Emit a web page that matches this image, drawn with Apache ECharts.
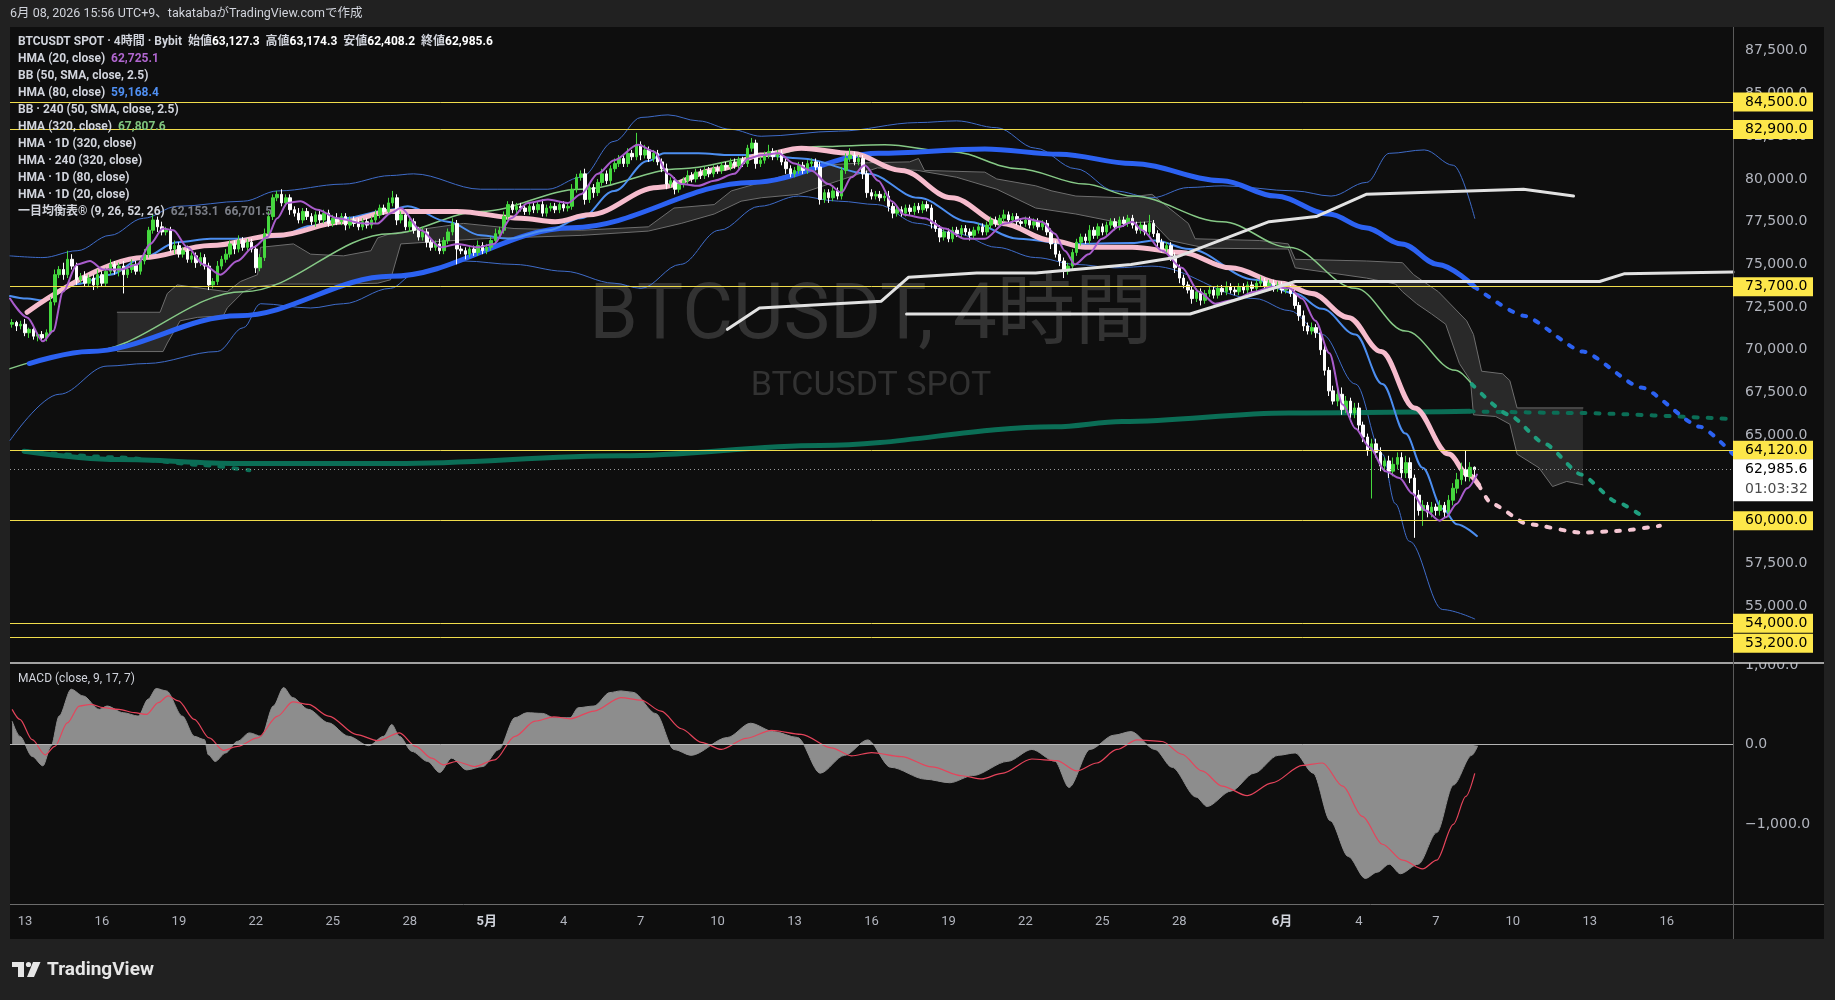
<!DOCTYPE html>
<html>
<head>
<meta charset="utf-8">
<title>BTCUSDT SPOT 4時間</title>
<script src="https://cdn.jsdelivr.net/npm/echarts@6/dist/echarts.min.js"></script>
<style>
  html, body { margin: 0; padding: 0; background: #212121; }
  #panel { position: absolute; left: 10px; top: 27px; width: 1814px; height: 912px; background: #0e0e0e; }
  #chart { position: absolute; left: 0; top: 0; width: 1835px; height: 1000px; }
</style>
</head>
<body>
<div id="panel"></div>
<div id="chart"></div>
<script>
// 4時間足の枠: 4/12 13:00 JST から 403 本 (右側は先の空き)
const START = Date.UTC(2026, 3, 12, 4)
const SLOTS = 403
const FONT = "Roboto, 'Noto Sans CJK JP', sans-serif"
const AXFONT = "'DejaVu Sans', sans-serif"

// 日付ラベル
const TICK_DAYS = ['4/13','4/16','4/19','4/22','4/25','4/28','5/1','5/4','5/7','5/10','5/13','5/16','5/19','5/22','5/25','5/28','6/1','6/4','6/7','6/10','6/13','6/16']
const TICK_LABELS = ['13','16','19','22','25','28','5月','4','7','10','13','16','19','22','25','28','6月','4','7','10','13','16']

// ローソク足 (千ドル単位) 始値は前の終値
const FIRST_OPEN = 71.5
const closes = [
  71.6, 71.4, 71.5, 71.0, 71.2, 70.8, 70.9, 70.7, 71.0, 72.8,
  74.4, 74.7, 74.4, 75.3, 74.9, 74.1, 74.3, 73.9, 74.2, 73.8,
  74.4, 73.9, 74.6, 75.0, 74.6, 74.9, 74.4, 74.7, 75.0, 74.6,
  75.2, 75.6, 77.0, 77.6, 77.2, 76.9, 77.0, 75.9, 76.1, 75.6,
  75.8, 75.3, 75.5, 75.1, 75.4, 74.9, 73.8, 74.0, 74.9, 75.3,
  75.6, 76.2, 75.9, 76.4, 76.0, 76.3, 75.9, 74.8, 75.4, 76.8,
  77.8, 78.9, 79.1, 78.6, 78.9, 78.2, 78.0, 77.6, 78.1, 77.8,
  77.5, 77.9, 77.6, 78.0, 77.4, 77.7, 77.5, 77.8, 77.3, 77.6,
  77.4, 77.2, 77.5, 77.3, 77.6, 77.9, 78.3, 78.1, 78.6, 78.9,
  77.6, 77.9, 77.2, 77.5, 77.0, 76.6, 76.9, 76.3, 76.0, 76.2,
  75.8, 76.4, 76.9, 77.4, 75.9, 75.8, 75.6, 75.9, 75.7, 76.1,
  75.8, 76.0, 76.4, 76.8, 77.0, 77.8, 78.5, 78.2, 78.4, 78.3,
  78.1, 78.4, 78.2, 78.5, 78.0, 78.3, 78.4, 78.2, 78.5, 78.3,
  78.4, 79.4, 80.1, 80.3, 78.8, 79.5, 79.2, 79.8, 80.3, 79.9,
  80.6, 80.9, 81.2, 80.9, 81.5, 81.3, 82.0, 81.4, 81.7, 81.2,
  81.5, 81.0, 80.6, 79.7, 79.9, 79.4, 79.7, 79.9, 80.2, 80.0,
  80.4, 80.2, 80.5, 80.3, 80.6, 80.5, 80.8, 80.7, 81.0, 80.8,
  81.1, 80.9, 81.8, 82.1, 80.9, 81.1, 81.4, 81.6, 81.3, 81.5,
  81.0, 80.6, 80.3, 80.5, 80.8, 80.5, 80.9, 81.0, 80.7, 78.8,
  79.2, 78.9, 79.3, 79.0, 80.5, 81.2, 81.4, 81.0, 81.2, 80.3,
  79.2, 79.0, 79.1, 78.9, 79.0, 78.4, 78.0, 78.2, 78.0, 78.3,
  78.1, 78.4, 78.2, 78.5, 78.3, 77.4, 77.1, 76.6, 76.9, 76.5,
  77.0, 76.8, 77.1, 76.9, 76.7, 77.0, 77.2, 76.9, 77.3, 77.6,
  77.4, 77.7, 77.9, 77.6, 77.8, 77.5, 77.4, 77.6, 77.3, 77.5,
  77.2, 77.4, 76.9, 76.2, 75.6, 75.2, 74.6, 74.9, 75.7, 76.3,
  76.6, 76.4, 77.0, 76.7, 77.2, 76.9, 77.3, 77.5, 77.2, 77.6,
  77.4, 77.7, 77.3, 77.0, 77.3, 76.9, 77.4, 76.8, 76.3, 75.9,
  76.1, 75.5, 74.8, 74.2, 73.8, 73.5, 73.0, 73.4, 72.9, 73.3,
  73.5, 73.2, 73.6, 73.4, 73.7, 73.5, 73.4, 73.7, 73.5, 73.8,
  73.6, 73.9, 74.0, 73.7, 73.9, 73.6, 73.8, 73.5, 73.6, 73.3,
  72.6, 72.0, 71.4, 71.1, 71.3, 71.0, 70.0, 68.8, 67.6, 67.0,
  67.4, 66.5, 67.0, 66.3, 66.6, 65.6, 64.9, 64.1, 64.5, 64.0,
  63.2, 63.5, 62.9, 63.3, 63.7, 62.8, 63.4, 62.5, 61.5, 60.6,
  60.9, 60.5, 60.8, 60.6, 60.9, 60.5, 61.2, 61.9, 62.4, 63.0,
  62.6, 63.127, 62.986
]
// ヒゲの長さ (100ドル単位)
const wickUp = [
  2,1,2,3,1,2,1,2,2,3, 3,2,4,5,3,2,2,3,2,2, 3,2,2,3,2,2,3,2,3,2, 2,3,2,3,2,3,2,2,3,2,
  2,3,2,2,3,2,2,2,3,2, 3,2,2,3,2,2,2,2,2,3, 3,2,2,3,2,2,2,3,2,2, 2,2,3,2,2,2,3,2,2,2,
  2,3,2,2,2,3,2,2,3,4, 2,2,3,2,2,2,3,2,2,2, 3,2,2,3,2,2,2,2,2,3, 2,2,2,3,2,3,2,2,2,2,
  2,2,2,2,3,2,2,2,2,2, 2,3,2,2,3,2,2,2,3,2, 2,3,2,2,3,2,7,2,3,2, 2,2,2,3,2,2,2,2,3,2,
  2,2,2,2,2,2,2,2,2,2, 2,2,2,3,2,2,2,4,2,2, 2,2,2,2,2,2,2,2,2,3, 2,2,3,2,2,3,4,2,2,2,
  2,2,2,2,2,3,2,2,2,2, 2,2,2,2,2,2,2,2,2,2, 2,2,2,2,2,2,2,2,2,2, 2,2,3,2,2,2,2,2,2,2,
  2,2,2,2,2,2,2,2,2,2, 2,2,3,2,2,2,2,2,2,2, 2,2,2,2,2,2,5,2,2,2, 2,2,2,2,2,2,2,2,2,2,
  2,2,2,2,3,2,2,2,2,2, 2,2,3,2,2,2,2,2,2,2, 2,2,3,2,3,2,2,3,2,3, 3,4,3,2,3,3,2,2,3,3,
  3,2,3,4,3,3,4,3,2,3, 3,2,3,2,3,2,3,3,4,4, 11,3,0.5
]
const wickDn = [
  2,3,2,2,3,2,3,2,2,1, 2,2,3,2,2,3,2,2,2,3, 2,2,2,2,2,3,11,2,2,2, 2,2,2,2,3,2,2,2,3,2,
  2,2,2,3,2,2,3,2,2,2, 2,2,3,2,2,2,2,3,2,2, 2,2,2,2,2,3,2,2,2,2, 2,3,2,2,2,2,2,2,3,2,
  2,2,2,2,2,2,2,2,2,2, 3,2,2,3,2,2,2,3,2,2, 2,2,2,2,9,2,3,2,2,2, 2,2,2,2,2,2,2,2,2,2,
  2,2,2,2,2,2,2,2,2,2, 2,2,2,2,3,2,3,2,2,2, 2,2,2,2,2,2,2,3,2,2, 2,2,2,3,2,3,2,2,2,2,
  2,2,2,2,2,2,2,2,2,2, 2,2,2,2,3,2,2,2,2,2, 2,3,2,2,2,2,2,2,2,3, 2,3,2,2,2,2,2,2,2,3,
  3,2,2,2,2,3,3,2,2,2, 2,2,2,2,2,3,2,3,2,2, 2,2,2,2,3,2,2,2,2,2, 2,2,2,2,2,2,2,2,2,2,
  2,2,2,3,2,3,4,2,2,2, 2,2,2,2,2,2,2,2,2,2, 2,2,2,2,2,2,2,2,3,2, 2,3,3,3,2,2,3,2,3,2,
  2,2,2,2,2,2,2,2,2,2, 2,2,2,2,2,2,2,2,2,2, 2,3,3,2,2,3,3,3,3,2, 3,3,2,3,3,3,3,3,28,3,
  3,3,4,3,3,3,3,3,25,3, 9,3,3,3,3,3,3,3,3,3, 3,3,5.8
]

// 水平線と現在値
const LEVELS = [84500, 82900, 73700, 64120, 60000, 54000, 53200]
const LAST_PRICE = 62985.6
const LAST_TIMER = '01:03:32'

// インジケーター [足の位置, 千ドル]
const hma20 = [[-0.5,73.0],[3.5,71.9],[7.2,70.5],[9.6,71.1],[11.9,73.4],[15.2,75.0],[18.2,75.2],[21.3,74.7],[25.3,74.7],[29.3,75.0],[32.3,76.2],[35.3,77.1],[37.7,77.0],[41,76.0],[44.7,75.0],[48.7,74.4],[52.7,75.2],[56.4,76.0],[59.7,76.6],[62,77.7],[64.4,78.6],[67.4,78.7],[71.4,78.2],[76.1,77.7],[82.2,77.4],[85.5,77.4],[88.5,78.0],[90.9,78.3],[95.6,77.0],[100.3,76.0],[104.2,76.2],[108.9,76.0],[112.7,76.2],[116.7,77.7],[120.6,78.6],[125.3,78.8],[130,78.6],[133,79.1],[137,80.3],[140.8,81.1],[146.4,82.0],[150.2,81.6],[153.4,80.3],[156.5,79.7],[160.5,79.6],[164.2,79.9],[168.9,80.3],[172.2,81.2],[175.2,81.4],[179.2,81.5],[183,80.9],[186.9,80.5],[190.9,79.7],[194,79.2],[196.3,80.1],[199.4,80.8],[202.6,79.9],[205.7,78.7],[208.7,77.9],[213.4,77.7],[218.1,77.1],[222.8,76.5],[227.5,76.5],[232.2,77.4],[236.8,77.7],[240.8,77.5],[243.9,76.8],[246.2,75.8],[248.6,75.0],[251.8,75.6],[254.9,76.5],[258.9,77.2],[262,77.5],[264.3,77.0],[269,75.8],[273.6,74.8],[277.6,73.4],[281.4,72.7],[285.3,72.9],[290.7,73.4],[294.7,73.7],[298.7,73.6],[301.7,73.0],[304.8,71.7],[308.1,69.8],[311.2,66.8],[314.2,65.4],[317.5,64.3],[321.2,62.9],[324.5,62.5],[327.5,61.6],[330.6,60.6],[333.9,60.0],[335.3,60.2],[337.9,61.0],[340.3,61.9],[342.6,62.7]]
const hma80 = [[-0.5,73.15],[3.5,73.0],[7.2,72.9],[15.2,73.85],[22.9,74.4],[30.7,75.4],[38.6,76.3],[46.4,76.5],[54.1,76.5],[62,76.6],[69.8,77.25],[77.5,77.7],[88.5,78.2],[92.5,78.4],[101.9,77.5],[109.6,76.7],[116,76.5],[125.3,77.0],[133,77.7],[140.8,79.3],[148.7,81.05],[152.5,81.5],[160.5,81.5],[168.2,81.4],[175.2,81.4],[184.6,81.2],[200.3,80.3],[212,78.9],[223.7,77.5],[235.4,76.5],[247.2,76.2],[262,76.25],[267.3,76.4],[275.3,75.9],[290.7,74.1],[300.1,73.3],[306.4,72.4],[314.2,70.9],[320.5,68.0],[325.9,65.1],[329.9,63.1],[334.6,60.7],[337.9,59.8],[342.6,59.1]]
const hma320 = [[-0.5,68.9],[17.5,69.9],[54.1,73.4],[88.5,76.8],[109.6,78.1],[133,79.4],[156.5,80.6],[175.2,81.3],[188.6,81.9],[204.1,82.0],[219.7,81.6],[235.4,80.6],[250.9,79.7],[262,79.0],[283,77.5],[298.7,76.0],[314.2,73.6],[325.9,71.1],[337.6,68.8],[341.4,68.0]]
const hma320Proj = [[341.4,68.0],[350.1,66.2],[358.5,64.5],[367,62.7],[375.3,61.1],[380.5,60.4]]
const bbUpper = [[-0.5,75.5],[7.2,75.4],[15.2,75.8],[22.9,76.7],[30.7,77.7],[38.6,78.4],[54.1,78.7],[62.1,79.3],[77.5,79.7],[88.5,80.2],[93.9,80.3],[109.6,79.4],[125.3,79.4],[133.1,80.1],[140.8,82.2],[147.1,83.6],[153.4,83.75],[160.5,83.4],[168.2,82.9],[175.2,82.5],[193.3,82.8],[211.8,83.3],[220.9,83.4],[230.3,83.0],[239.4,81.8],[248.8,80.6],[257.9,79.3],[266.6,78.9],[275.1,79.5],[283.2,79.6],[300.1,79.3],[308.5,79.0],[316.8,79.8],[322.1,81.5],[330.3,81.7],[337.1,80.8],[342.1,77.7]]
const bbLower = [[-0.5,64.7],[11,67.4],[22.2,69.05],[31.4,69.2],[48,69.9],[54.1,71.3],[58.1,72.7],[69.8,72.45],[77.5,72.7],[88.5,73.6],[93.9,74.4],[105.6,75.2],[117.4,75.0],[129.1,74.6],[140.8,73.9],[147.1,73.6],[156.3,75.0],[165.4,77.0],[174.8,78.4],[183.9,79.0],[193.3,78.7],[202.4,78.5],[211.8,77.4],[220.9,76.8],[230.3,76.0],[239.4,75.4],[248.8,75.0],[257.9,74.8],[266.6,74.9],[290.7,73.0],[298.7,72.3],[306.4,70.9],[314.2,68.0],[320.5,63.9],[323.5,61.0],[326.8,58.8],[334.6,54.8],[342.1,54.25]]
const hma1d320 = [[4,69.2],[18,69.9],[53,72.0],[88.5,74.3],[131,77.15],[173,79.8],[202.6,81.5],[227.5,81.75],[245,81.45],[262,80.9],[283,79.9],[295.5,79.0],[308,77.95],[316.5,77.15],[325,76.2],[333.5,75.0],[342,73.7]]
const hma1d320Proj = [[342,73.7],[353.5,72.0],[367.4,69.9],[381,67.8],[394.8,65.5],[402.5,63.9]]
const hma240x320 = [[2.8,64.07],[25,63.58],[52.7,63.35],[89.7,63.35],[142.4,63.8],[189,64.4],[243.9,65.5],[259.6,65.8],[298.7,66.3],[340.9,66.4]]
const hma240x320Proj = [[340.9,66.4],[367,66.3],[402.5,65.95]]
const hma240x320Early = [[2.8,64.07],[25,63.7],[45,63.25],[55.5,62.95]]
const hma1d80 = [[167.3,71.2],[174.8,72.45],[203.3,72.85],[209.7,74.25],[225.6,74.5],[239.4,74.5],[261.7,75.0],[272,75.4],[294,77.5],[305,77.8],[316.7,79.1],[353.5,79.4],[365.2,79.0]]
const hma1d80Low = [[209.2,72.1],[275.5,72.1],[300.1,74.0],[371.3,74.0],[377,74.45],[402.5,74.55]]
const hma1d20 = [[3.5,72.2],[30.7,75.4],[46.4,76.1],[62,76.7],[77.5,77.5],[88.5,78.1],[104,78.1],[119,77.7],[127,77.5],[135,77.9],[151,79.5],[166,80.6],[175,81.4],[184.6,81.8],[196.3,81.5],[208,80.5],[219.7,78.9],[231.5,77.4],[243.2,76.4],[251,76.0],[262,76.0],[273.5,75.7],[285,74.8],[296.9,73.9],[304,73.3],[312.5,71.9],[320.2,69.9],[328,66.6],[336,63.9],[340.5,62.7],[343,62.1]]
const hma1d20Proj = [[343,62.1],[346,61.0],[354.5,59.8],[367,59.3],[375.3,59.4],[385.4,59.7]]
const spanA = [[24.6,72.2],[34.6,72.2],[36.3,73.3],[38.6,73.8],[50.3,73.4],[53.4,74.0],[57.4,74.4],[58.1,76.0],[65.8,76.2],[69.8,75.6],[77.5,75.5],[83.9,75.8],[85.5,76.55],[88.5,76.8],[105.6,77.4],[117.4,77.1],[133.1,77.0],[148.8,77.2],[154.8,78.3],[164.2,78.5],[168.2,79.3],[175.2,79.8],[188.6,80.8],[200.3,80.95],[209.9,81.0],[212,81.2],[213.4,80.5],[227.5,80.4],[230.3,80.0],[239.4,79.6],[243.2,79.3],[248.8,79.0],[259.8,78.9],[266.6,79.1],[275.1,77.4],[276.7,76.5],[291.7,76.4],[298.5,76.2],[300.1,75.3],[316.8,75.2],[325.2,75.1],[327.8,74.4],[330.1,74.0],[333.6,73.4],[340.2,71.7],[341.8,70.9],[343.7,68.75],[348.6,68.6],[350.3,68.2],[352,66.6],[367.4,66.6]]
const spanB = [[24.6,69.9],[35.3,69.9],[36.3,70.4],[39.3,71.7],[43.3,71.9],[49.4,72.0],[50.3,72.45],[54.1,73.4],[57.4,73.7],[62.1,73.85],[77.5,73.85],[85.5,73.9],[88.5,74.1],[90.9,76.2],[109.6,76.5],[133.1,76.7],[148.8,76.95],[156.5,77.4],[164.2,77.95],[170.5,78.7],[175.2,78.9],[183.9,79.1],[193.3,79.9],[202.4,80.65],[211.8,80.5],[220.9,80.1],[230.3,79.4],[239.4,78.3],[248.8,77.95],[259.8,77.4],[266.6,77.5],[270.8,76.4],[279.3,75.95],[298.5,75.9],[300.1,74.8],[316.8,74.2],[323.6,73.85],[325.2,73.4],[328.5,72.7],[332,72.1],[335.3,71.5],[338.5,69.2],[341.1,68.2],[341.8,66.2],[347,66.1],[350.3,65.65],[352,63.9],[357.1,63.1],[360.3,62.0],[363.6,62.3],[367.4,62.1]]

// MACD (close, 9, 17, 7) [足の位置, 値]
const macdLine = [[0,295],[1.8,105],[4.7,-148],[7.2,-266],[9.1,-21],[11,359],[13.8,696],[16.6,612],[20.4,443],[22.2,485],[26,401],[29.5,359],[31.8,570],[33.7,705],[36.1,675],[39.8,359],[42.6,105],[45,63],[45.9,-127],[47.5,-211],[49.9,-105],[52.7,42],[55.5,148],[58.3,105],[61.1,485],[63.5,717],[65.6,591],[69.3,443],[74,274],[78.7,105],[83.4,-13],[86.9,105],[88.8,253],[90.6,105],[93.5,-84],[97.2,-211],[100,-350],[102.8,-169],[106.3,-317],[110.1,-274],[113.8,-63],[117.6,338],[120.4,401],[124.1,392],[126.7,338],[130.5,338],[132.4,464],[136.1,485],[139.8,654],[142.4,675],[145.2,657],[150.6,388],[154.8,-60],[158.8,-134],[167.3,90],[172.7,269],[178.1,164],[183.7,90],[189,-358],[194.7,-134],[200.1,60],[205.5,-284],[213.6,-433],[219.3,-478],[224.7,-388],[232.9,-209],[238.5,-60],[243.9,-209],[247.2,-537],[252.1,-60],[257.7,119],[261.7,164],[267.3,-60],[271.3,-284],[276.9,-657],[279.5,-776],[285.1,-582],[290.5,-358],[296.1,-134],[300.1,-104],[304.3,-358],[308.3,-955],[312.5,-1403],[316.5,-1680],[319.3,-1600],[322.1,-1500],[324.7,-1620],[328.9,-1500],[333.2,-1104],[337.1,-507],[341.4,-134],[342.8,-15]]
const macdSignal = [[0,443],[1.8,317],[4.7,63],[7.7,-127],[10,-21],[12.9,274],[15.7,485],[18.5,506],[21.3,464],[25,443],[28.6,401],[31.4,380],[34.2,527],[36.5,612],[38.9,549],[42.6,317],[46.1,84],[49.4,-72],[52.7,-21],[57.4,84],[62.1,359],[65.6,536],[69.3,506],[74,359],[80.6,127],[85.5,51],[90.6,148],[94.4,-21],[98.1,-169],[100.9,-253],[103.8,-211],[108.2,-274],[112.9,-190],[117.6,105],[122.3,295],[126.7,350],[130.5,325],[136.1,422],[142.4,591],[147.1,560],[151.8,420],[156.5,200],[161.2,30],[165.9,-60],[171.7,80],[177.6,180],[184.6,130],[191.6,-40],[196.3,-140],[201,-100],[208,-150],[215.1,-280],[222.1,-390],[226.8,-430],[231.5,-360],[238.5,-180],[244.3,-200],[249,-330],[253.7,-230],[258.4,-60],[263.1,60],[269,40],[273.6,-120],[278.3,-330],[283,-520],[288.9,-640],[294.7,-480],[301.8,-260],[306.5,-230],[311.2,-520],[315.8,-900],[320.5,-1250],[325.2,-1450],[329.9,-1560],[333.2,-1450],[337.1,-1000],[340,-650],[342.1,-360]]

// ---- ここから組み立て ----
const categories = []
for (let k = 0; k < SLOTS; k++) {
  const d = new Date(START + k * 4 * 3600e3 + 9 * 3600e3)
  const hh = String(d.getUTCHours()).padStart(2, '0')
  categories.push((d.getUTCMonth() + 1) + '/' + d.getUTCDate() + ' ' + hh)
}

const candles = closes.map((c, i) => {
  const o = i === 0 ? FIRST_OPEN : closes[i - 1]
  const hi = Math.max(o, c) + wickUp[i] / 10
  const lo = Math.min(o, c) - wickDn[i] / 10
  return [o, c, lo, hi].map(v => Math.round(v * 10000) / 10)
})

const fmtPrice = v => v.toLocaleString('en-US', { minimumFractionDigits: 1, maximumFractionDigits: 1 })
const k2usd = pts => pts.map(p => [p[0], p[1] * 1000])

function line(pts, color, width, opts) {
  return Object.assign({
    type: 'line', xAxisIndex: 1, yAxisIndex: 0,
    data: k2usd(pts), showSymbol: false, silent: true,
    smooth: 0.35, smoothMonotone: 'x',
    lineStyle: { color: color, width: width, cap: 'round' },
    z: 3
  }, opts || {})
}
function dotted(pts, color, width) {
  return line(pts, color, width, {
    smooth: 0.2,
    lineStyle: { color: color, width: width, type: [4, 10], cap: 'round' }
  })
}

const chart = echarts.init(document.getElementById('chart'))

const option = {
  animation: false,
  backgroundColor: 'transparent',
  title: {
    left: 18, top: 33, padding: 0,
    text: [
      '{t|BTCUSDT SPOT · 4時間 · Bybit  始値}{v|63,127.3}{t|  高値}{v|63,174.3}{t|  安値}{v|62,408.2}{t|  終値}{v|62,985.6}',
      '{t|HMA (20, close)  }{p|62,725.1}',
      '{t|BB (50, SMA, close, 2.5)}',
      '{t|HMA (80, close)  }{b|59,168.4}',
      '{t|BB · 240 (50, SMA, close, 2.5)}',
      '{t|HMA (320, close)  }{g|67,807.6}',
      '{t|HMA · 1D (320, close)}',
      '{t|HMA · 240 (320, close)}',
      '{t|HMA · 1D (80, close)}',
      '{t|HMA · 1D (20, close)}',
      '{t|一目均衡表® (9, 26, 52, 26)  }{c|62,153.1  66,701.5}'
    ].join('\n'),
    textStyle: {
      fontFamily: FONT, fontSize: 12, color: '#d1d4dc', lineHeight: 17,
      rich: {
        t: { fontFamily: FONT, fontSize: 12, color: '#d1d4dc', lineHeight: 17 },
        v: { fontFamily: FONT, fontSize: 12, color: '#ffffff', fontWeight: 'bold', lineHeight: 17 },
        p: { fontFamily: FONT, fontSize: 12, color: '#b066cf', lineHeight: 17 },
        b: { fontFamily: FONT, fontSize: 12, color: '#4f8ff2', lineHeight: 17 },
        g: { fontFamily: FONT, fontSize: 12, color: '#7fc47f', lineHeight: 17 },
        c: { fontFamily: FONT, fontSize: 12, color: '#7c7f88', lineHeight: 17 }
      }
    }
  },
  grid: [
    { left: 10, right: 102, top: 8.1, height: 683.5 },
    { left: 10, right: 102, top: 665, height: 239 }
  ],
  xAxis: [
    { type: 'category', gridIndex: 0, data: categories, show: false },
    { type: 'value', gridIndex: 0, min: -0.5, max: SLOTS - 0.5, show: false },
    {
      type: 'category', gridIndex: 1, data: categories,
      axisLine: { show: false }, axisTick: { show: false },
      axisLabel: {
        color: '#b2b5be', fontSize: 13, fontFamily: FONT, margin: 11,
        interval: (idx, val) => val.endsWith(' 01') && TICK_DAYS.includes(val.split(' ')[0]),
        formatter: val => {
          const lab = TICK_LABELS[TICK_DAYS.indexOf(val.split(' ')[0])]
          return lab.endsWith('月') ? '{m|' + lab + '}' : lab
        },
        rich: { m: { fontWeight: 'bold', fontSize: 13, color: '#d1d4dc', fontFamily: FONT } }
      }
    },
    { type: 'value', gridIndex: 1, min: -0.5, max: SLOTS - 0.5, show: false }
  ],
  yAxis: [
    {
      type: 'value', gridIndex: 0, position: 'right', min: 50000, max: 90000, interval: 2500,
      axisLine: { show: false }, axisTick: { show: false }, splitLine: { show: false },
      axisLabel: {
        color: '#b2b5be', fontSize: 14, fontFamily: AXFONT, margin: 12,
        formatter: v => (v < 54000 || v > 88000) ? '' : fmtPrice(v)
      }
    },
    {
      type: 'value', gridIndex: 1, position: 'right', min: -2000, max: 1000, interval: 1000,
      axisLine: { show: false }, axisTick: { show: false }, splitLine: { show: false },
      axisLabel: {
        color: '#b2b5be', fontSize: 14, fontFamily: AXFONT, margin: 12,
        formatter: v => v === 1000 ? '1,000.0' : v === 0 ? '0.0' : v === -1000 ? '−1,000.0' : ''
      }
    }
  ],
  series: [
    {
      type: 'custom', xAxisIndex: 1, yAxisIndex: 0, z: 1, silent: true,
      data: [[0, 60000]],
      renderItem: (params, api) => {
        const top = spanA.map(p => api.coord([p[0], p[1] * 1000]))
        const bottom = spanB.slice().reverse().map(p => api.coord([p[0], p[1] * 1000]))
        return { type: 'polygon', shape: { points: top.concat(bottom) }, style: { fill: 'rgba(150,150,150,0.2)' } }
      }
    },
    line(spanA, '#6e6e6e', 1, { smooth: false, z: 2 }),
    line(spanB, '#6e6e6e', 1, { smooth: false, z: 2 }),
    line(bbUpper, '#3f6cc9', 1),
    line(bbLower, '#3f6cc9', 1),
    line(hma240x320, '#0b6e56', 5),
    dotted(hma240x320Proj, '#0b6e56', 4),
    dotted(hma240x320Early, '#0b6e56', 4),
    line(hma320, '#86c986', 1.5),
    dotted(hma320Proj, '#1f9e7e', 4),
    line(hma1d320, '#2c62f2', 5),
    dotted(hma1d320Proj, '#2c62f2', 4),
    line(hma1d80, '#e2e2e2', 3, { smooth: false, z: 6 }),
    line(hma1d80Low, '#e2e2e2', 3, { smooth: false, z: 6 }),
    line(hma80, '#4c8ef0', 2),
    line(hma1d20, '#f6bccd', 5),
    dotted(hma1d20Proj, '#f6c7d3', 4),
    {
      type: 'candlestick', xAxisIndex: 0, yAxisIndex: 0, data: candles, barWidth: 3, z: 4, silent: true,
      itemStyle: { color: '#45d83e', color0: '#ffffff', borderColor: '#45d83e', borderColor0: '#ffffff', borderWidth: 1 },
      markLine: {
        silent: true, symbol: ['none', 'none'], label: { show: false },
        data: LEVELS.map(v => ({ yAxis: v, lineStyle: { color: '#f0dd4c', width: 1, type: 'solid' } }))
          .concat([{ yAxis: LAST_PRICE, lineStyle: { color: '#9a9a9a', width: 1, type: [1, 3] } }])
      }
    },
    line(hma20, '#a95ccc', 2, { z: 5, smooth: 0.3 }),
    {
      type: 'line', xAxisIndex: 3, yAxisIndex: 1, data: macdLine, showSymbol: false, silent: true,
      smooth: 0.3, smoothMonotone: 'x',
      lineStyle: { color: '#8d8d8d', width: 1 },
      areaStyle: { color: '#8d8d8d', opacity: 1 },
      markLine: {
        silent: true, symbol: ['none', 'none'], label: { show: false },
        data: [{ yAxis: 0 }], lineStyle: { color: '#b4b4b4', width: 1, type: 'solid' }
      }
    },
    {
      type: 'line', xAxisIndex: 3, yAxisIndex: 1, data: macdSignal, showSymbol: false, silent: true,
      smooth: 0.3, smoothMonotone: 'x', z: 4,
      lineStyle: { color: '#e5445b', width: 1.2 }
    }
  ]
}

chart.setOption(option)

// 右側の価格タグは軸の座標から位置を取る
const yOf = v => chart.convertToPixel({ yAxisIndex: 0 }, v)
const txt = (x, y, text, font, fill) => ({
  type: 'text', x: x, y: y, z: 121,
  style: { text: text, fill: fill, font: font, textAlign: 'left', align: 'left', textVerticalAlign: 'middle', verticalAlign: 'middle' }
})
const centered = (x, y, text, font, fill) => ({
  type: 'text', x: x, y: y, z: -1,
  style: { text: text, fill: fill, font: font, textAlign: 'center', align: 'center', textVerticalAlign: 'middle', verticalAlign: 'middle' }
})

const tags = LEVELS.map(v => ({ v: v, y: yOf(v) })).sort((a, b) => a.y - b.y)
for (let k = 1; k < tags.length; k++) {
  if (tags[k].y - tags[k - 1].y < 20) tags[k].y = tags[k - 1].y + 20
}
const graphics = [
  // 上の作成者表示
  txt(10, 14, '6月 08, 2026 15:56 UTC+9、takatabaがTradingView.comで作成', '12.5px ' + FONT, '#d1d4dc'),
  // ウォーターマーク
  centered(871, 318, 'BTCUSDT, 4時間', '78px ' + FONT, '#323232'),
  centered(871, 386, 'BTCUSDT SPOT', '34px ' + FONT, '#323232'),
  // 枠線
  { type: 'rect', z: 90, shape: { x: 1734, y: 652, width: 90, height: 11 }, style: { fill: '#0e0e0e' } },
  { type: 'line', z: 100, shape: { x1: 10, y1: 663, x2: 1824, y2: 663 }, style: { stroke: '#d4d4d4', lineWidth: 1.5 } },
  { type: 'line', z: 100, shape: { x1: 10, y1: 904.5, x2: 1824, y2: 904.5 }, style: { stroke: '#6c6c6c', lineWidth: 1 } },
  { type: 'line', z: 100, shape: { x1: 1733.5, y1: 27, x2: 1733.5, y2: 939 }, style: { stroke: '#5a5a5a', lineWidth: 1 } },
  txt(18, 679, 'MACD (close, 9, 17, 7)', '12px ' + FONT, '#d1d4dc'),
  // ロゴ
  { type: 'rect', z: 100, shape: { x: 12, y: 962, width: 12, height: 5 }, style: { fill: '#e6e6e6' } },
  { type: 'rect', z: 100, shape: { x: 18, y: 962, width: 6, height: 15 }, style: { fill: '#e6e6e6' } },
  { type: 'circle', z: 100, shape: { cx: 28.5, cy: 964.5, r: 2.6 }, style: { fill: '#e6e6e6' } },
  { type: 'polygon', z: 100, shape: { points: [[33, 962], [40.5, 962], [34, 977], [27, 977]] }, style: { fill: '#e6e6e6' } },
  txt(47, 970, 'TradingView', 'bold 19px ' + FONT, '#e6e6e6')
]
tags.forEach(t => {
  graphics.push({ type: 'rect', z: 120, shape: { x: 1733, y: t.y - 9.5, width: 80, height: 19 }, style: { fill: '#fde74a' } })
  graphics.push(txt(1745, t.y, fmtPrice(t.v), '14px ' + AXFONT, '#000000'))
})
const py = yOf(LAST_PRICE)
graphics.push({ type: 'rect', z: 120, shape: { x: 1733, y: py - 10.5, width: 80, height: 42 }, style: { fill: '#ffffff' } })
graphics.push(txt(1745, py, fmtPrice(LAST_PRICE), '14px ' + AXFONT, '#000000'))
graphics.push(txt(1745, py + 20, LAST_TIMER, '14px ' + AXFONT, '#4a4a4a'))

chart.setOption({ graphic: graphics })
</script>
</body>
</html>
